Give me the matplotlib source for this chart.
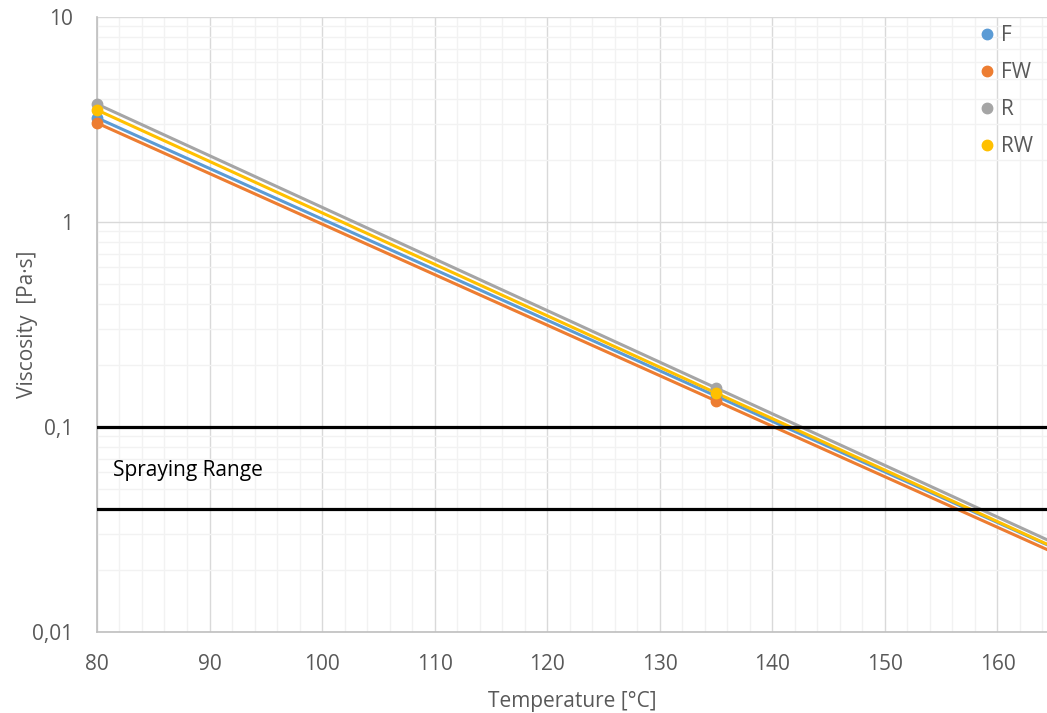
import numpy as np
import matplotlib.pyplot as plt
from matplotlib.ticker import FixedLocator, FixedFormatter, MultipleLocator, LogLocator

plt.rcParams['font.family'] = ['Open Sans', 'DejaVu Sans']

# measured points (temperature in °C, viscosity in Pa·s)
temps = [80, 135]
series_names = ['F', 'FW', 'R', 'RW']
visc_F = [3.22, 0.1416]
visc_FW = [3.04, 0.134]
visc_R = [3.76, 0.155]
visc_RW = [3.52, 0.1466]
colors = ['#5b9bd5', '#ed7d31', '#a5a5a5', '#ffc000']

spray_low = 0.04
spray_high = 0.1

x_max = 164.4
y_ticks = [0.01, 0.1, 1, 10]
y_labels = ['0,01', '0,1', '1', '10']
x_ticks = list(range(80, 161, 10))

fig = plt.figure(figsize=(10.47, 7.13), dpi=100)
ax = fig.add_axes([0.0926, 0.1136, 0.9074, 0.8626])

all_visc = [visc_F, visc_FW, visc_R, visc_RW]
xfit = np.linspace(temps[0], x_max, 200)
for name, v, c in zip(series_names, all_visc, colors):
    # exponential trendline through the points
    k, b = np.polyfit(temps, np.log(v), 1)
    ax.plot(xfit, np.exp(k * xfit + b), color=c, lw=2.2, zorder=3)
for name, v, c in zip(series_names, all_visc, colors):
    ax.plot(temps, v, 'o', color=c, ms=7.5, label=name, zorder=4, clip_on=False)

ax.axhline(spray_high, color='black', lw=2.3, zorder=5)
ax.axhline(spray_low, color='black', lw=2.3, zorder=5)
ax.text(81.4, 0.0615, 'Spraying Range', fontsize=15, color='black', va='center', ha='left')

ax.set_yscale('log')
ax.set_ylim(0.01, 10)
ax.set_xlim(80, x_max)
ax.yaxis.set_major_locator(FixedLocator(y_ticks))
ax.yaxis.set_major_formatter(FixedFormatter(y_labels))
ax.yaxis.set_minor_locator(LogLocator(base=10, subs=np.arange(2, 10)))
ax.yaxis.set_minor_formatter(FixedFormatter([]))
ax.xaxis.set_major_locator(FixedLocator(x_ticks))
ax.xaxis.set_minor_locator(MultipleLocator(2))

ax.grid(True, which='major', color='#d9d9d9', lw=1.0)
ax.grid(True, which='minor', color='#f2f2f2', lw=1.0)
ax.set_axisbelow(True)

for s in ['top', 'right']:
    ax.spines[s].set_visible(False)
for s in ['left', 'bottom']:
    ax.spines[s].set_color('#bfbfbf')
    ax.spines[s].set_linewidth(1.2)

ax.tick_params(which='both', length=0, colors='#595959', labelsize=15)
ax.tick_params(axis='x', pad=16)
ax.tick_params(axis='y', pad=17)
ax.set_xlabel('Temperature [°C]', fontsize=15, color='#595959', labelpad=11)
ax.set_ylabel('Viscosity  [Pa·s]', fontsize=15, color='#595959', labelpad=-4)

leg = ax.legend(loc='upper left', frameon=False, fontsize=15, handlelength=0.6,
                handletextpad=0.375, labelspacing=0.77, borderaxespad=0.0,
                bbox_to_anchor=(0.9215, 1.0))
for t in leg.get_texts():
    t.set_color('#595959')

fig.savefig('out.png', dpi=100)
